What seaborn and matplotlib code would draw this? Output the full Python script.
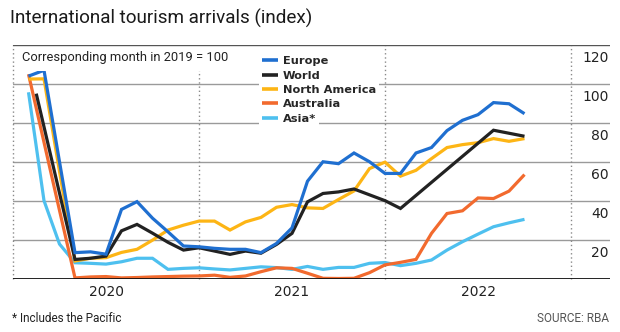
import matplotlib
matplotlib.use("Agg")
import matplotlib.pyplot as plt
import matplotlib.font_manager as fm
from matplotlib.lines import Line2D
import seaborn as sns
import pandas as pd

# ---------------- data (month index: 1 = Jan 2020) ----------------
months = list(range(1, 34))
europe = [104, 107, 60, 13.3, 13.7, 12.5, 35.5, 39.5, 31, 24, 16.7, 16.3, 15.5, 15, 15,
          13.3, 18, 26, 50, 60, 59, 64.5, 60, 54, 54, 64.5, 67.3, 76, 81.3, 84.2, 90.4, 89.8, 84.7]
north_america = [102.5, 102.6, 55, 9, 10.4, 10.7, 13.4, 15, 19.7, 24.9, 27.4, 29.5, 29.5, 24.9,
                 29.1, 31.4, 36.6, 38, 36.3, 36, 40.6, 45, 56.5, 59.8, 52.6, 55.6, 61.6, 67.3,
                 68.8, 69.8, 71.9, 70.5, 71.9]
australia = [105, 70, 35, 0.3, 0.8, 1, 0.3, 0.5, 0.8, 1, 1.2, 1.3, 1.7, 0.6, 1.3, 3.5, 5.5, 5.2,
             2.7, 0.1, 0, 0.1, 3, 7, 8.3, 9.8, 23.2, 33.4, 34.8, 41.4, 41.1, 44.9, 53.4]
asia = [95.7, 40, 17.7, 8.1, 7.8, 7.4, 8.6, 10.4, 10.4, 4.7, 5.2, 5.5, 4.9, 4.4, 5.2, 6, 5.6, 4.7,
        6.2, 4.7, 5.7, 5.7, 7.8, 8.2, 6.6, 7.8, 9.5, 14.6, 18.9, 22.8, 26.6, 28.6, 30.4]
world_months = [1.5, 4, 5, 6, 7, 8, 9, 10, 11, 12, 13, 14, 15, 16, 17, 18, 19, 20, 21, 22, 23,
                24, 25, 31, 33]
world = [95, 9.8, 10.4, 11.5, 24.5, 27.8, 23.3, 18.6, 14.6, 15.8, 14.1, 12.4, 14.1, 13, 17.5,
         23.2, 39.4, 43.7, 44.5, 46, 43, 40, 36, 76.2, 73.1]

legend_labels = ["Europe", "World", "North America", "Australia", "Asia*"]
year_ticks = [6, 18, 30]
year_labels = ["2020", "2021", "2022"]
year_bounds = [0, 12, 24, 36]
y_ticks = [20, 40, 60, 80, 100, 120]

colors = {
    "Europe": "#1f6fd0",
    "World": "#222222",
    "North America": "#fdb515",
    "Australia": "#f26a2e",
    "Asia*": "#4ec0ef",
}

frames = [
    pd.DataFrame({"month": months, "value": europe, "region": "Europe"}),
    pd.DataFrame({"month": world_months, "value": world, "region": "World"}),
    pd.DataFrame({"month": months, "value": north_america, "region": "North America"}),
    pd.DataFrame({"month": months, "value": australia, "region": "Australia"}),
    pd.DataFrame({"month": months, "value": asia, "region": "Asia*"}),
]
df = pd.concat(frames, ignore_index=True)

# ---------------- style ----------------
sns.set_style("white")
avail = {f.name for f in fm.fontManager.ttflist}
NARROW = "Liberation Sans Narrow" if "Liberation Sans Narrow" in avail else "Roboto"
plt.rcParams["font.family"] = ["DejaVu Sans"]

W, H = 620, 332
fig = plt.figure(figsize=(W / 100, H / 100), dpi=100)
left_px, right_px, top_px, bot_px = 13, 610, 45, 278.5
ax = fig.add_axes([left_px / W, (H - bot_px) / H, (right_px - left_px) / W, (bot_px - top_px) / H])

# grid / frame lines
for v in y_ticks[:-1]:
    ax.axhline(v, color="#9a9a9a", lw=1.0, zorder=1)
ax.axhline(120, color="#555555", lw=1.0, zorder=11)
ax.axhline(0, color="#111111", lw=1.3, zorder=6)
for xb in year_bounds:
    ax.axvline(xb, color="#8a8a8a", lw=1.0, ls=(0, (1, 2)), zorder=1, clip_on=False)

hue_order = ["Asia*", "Australia", "North America", "World", "Europe"]
sns.lineplot(data=df, x="month", y="value", hue="region", hue_order=hue_order,
             palette=colors, linewidth=2.3, legend=False, errorbar=None, ax=ax)
for i, ln in enumerate(ax.get_lines()[-5:]):
    ln.set_zorder(2 + i * 0.1)
    ln.set_solid_joinstyle("miter")
    ln.set_solid_capstyle("butt")

ax.set_xlim(0, (right_px - left_px) / 15.5)
ax.set_ylim(0, 120)
for s in ax.spines.values():
    s.set_visible(False)
ax.set_xlabel("")
ax.set_ylabel("")
ax.set_yticks([])
ax.set_xticks(year_ticks)
ax.set_xticklabels(year_labels, fontsize=10, color="#222222")
ax.tick_params(axis="x", length=0, pad=4.5)

# right-side value labels (inside, below each gridline)
for v in y_ticks:
    ax.text(0.998, v - 6.9, str(v), transform=ax.get_yaxis_transform(),
            ha="right", va="center", fontsize=10, color="#222222", zorder=7)

# subtitle inside plot
ax.text((22 - left_px) / (right_px - left_px), (bot_px - 58) / (bot_px - top_px),
        "Corresponding month in 2019 = 100", transform=ax.transAxes, ha="left", va="center",
        fontsize=9.3, family=[NARROW, "DejaVu Sans"], color="#222222", zorder=8,
        bbox=dict(facecolor="white", edgecolor="none", pad=5.0))

# legends (two boxes so the lower gridline is only hidden behind "Asia*")
handles = [Line2D([0], [0], color=colors[k], lw=2.6, solid_capstyle="butt") for k in legend_labels]
leg_kw = dict(loc="upper left", bbox_transform=fig.transFigure, frameon=True, fancybox=False,
              framealpha=1, facecolor="white", edgecolor="none", borderpad=0.3, borderaxespad=0,
              handlelength=1.37, handletextpad=0.44, labelspacing=0.37,
              prop={"weight": "bold", "size": 8.2, "family": "DejaVu Sans"})
leg2 = ax.legend(handles[4:], legend_labels[4:], bbox_to_anchor=(258.6 / W, 1 - 110.6 / H), **leg_kw)
leg2.set_zorder(9)
ax.add_artist(leg2)
leg1 = ax.legend(handles[:4], legend_labels[:4], bbox_to_anchor=(258.6 / W, 1 - 53 / H), **leg_kw)
leg1.set_zorder(10)

# title and footer
fig.text(10 / W, 1 - 18 / H, "International tourism arrivals (index)", ha="left", va="center",
         fontsize=13.6, family=[NARROW, "DejaVu Sans"], color="#1a1a1a")
fig.text(12 / W, 1 - 318 / H, "* Includes the Pacific", ha="left", va="center",
         fontsize=8.5, family=[NARROW, "DejaVu Sans"], color="#222222")
fig.text(609 / W, 1 - 318 / H, "SOURCE: RBA", ha="right", va="center",
         fontsize=8.5, family=[NARROW, "DejaVu Sans"], color="#555555")

fig.savefig("out.png", dpi=100, facecolor="white")
